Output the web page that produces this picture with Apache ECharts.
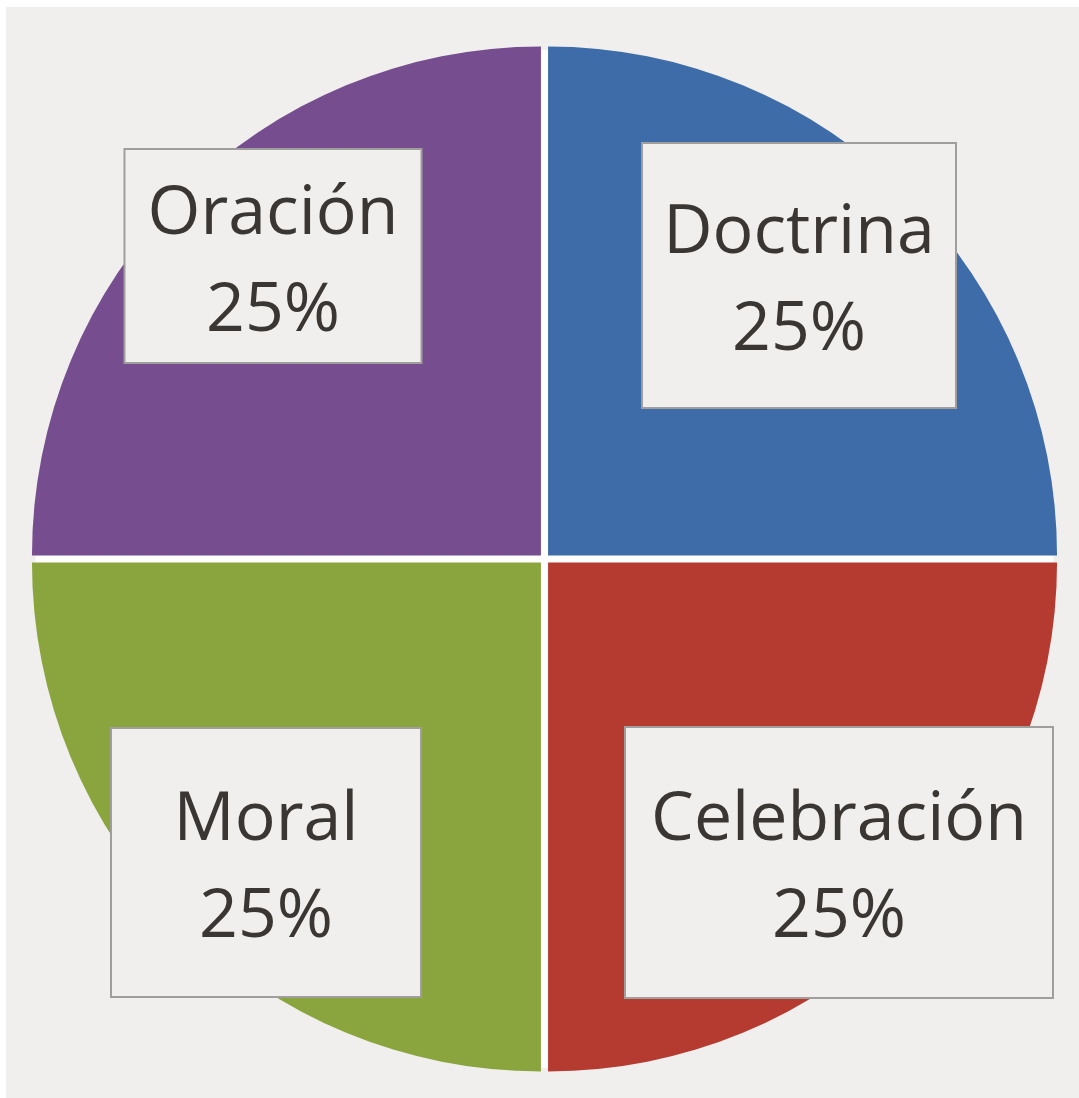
<!DOCTYPE html>
<html>
<head>
<meta charset="utf-8">
<script src="https://cdn.jsdelivr.net/npm/echarts@6/dist/echarts.min.js"></script>
<style>
  html, body { margin: 0; padding: 0; background: #f0efed; overflow: hidden; }
  #chart { width: 1079px; height: 1098px; }
</style>
</head>
<body>
<div id="chart"></div>
<script>
// slices, clockwise from 12 o'clock
const categories = ["Doctrina", "Celebración", "Moral", "Oración"];
const values = [25, 25, 25, 25];
const colors = ["#3e6ca8", "#b53b31", "#8aa53d", "#764d8f"];

// label boxes: centre x, top y, width, height (px)
const boxes = [
  [799, 144, 312, 263],
  [839, 728, 426, 269],
  [266, 729, 308, 267],
  [273, 150, 295, 212],
];
const lineH = 97;
const textDrop = 7; // text sits a little below the box middle

const chart = echarts.init(document.getElementById("chart"), null, { renderer: "canvas" });

const center = [544.5, 559];
const radius = 509;

// slices pulled apart a little, like an exploded pie
const sliceData = categories.map((name, i) => ({
  name,
  value: values[i],
  selected: true,
  itemStyle: { color: colors[i] },
}));

// same values again, only to carry the boxed labels
const labelData = categories.map((name, i) => {
  const [, , w, h] = boxes[i];
  const padTop = (h - 2 * lineH) / 2 + textDrop;
  const padBottom = h - 2 * lineH - padTop;
  return {
    name,
    value: values[i],
    label: { width: w, padding: [padTop, 0, padBottom, 0] },
  };
});

chart.setOption({
  animation: false,
  backgroundColor: "#f0efed",
  graphic: [
    // thin white strips at top and left edge of the picture
    { type: "rect", z: -1, shape: { x: 0, y: 0, width: 1079, height: 7 }, style: { fill: "#ffffff" } },
    { type: "rect", z: -1, shape: { x: 0, y: 0, width: 6, height: 1098 }, style: { fill: "#ffffff" } },
  ],
  series: [
    {
      // white disc behind the pulled-apart slices, shows as the gaps
      type: "pie",
      z: 1,
      center,
      radius: [0, radius],
      silent: true,
      emphasis: { disabled: true },
      label: { show: false },
      labelLine: { show: false },
      itemStyle: { color: "#ffffff" },
      data: [{ name: "", value: 1 }],
    },
    {
      type: "pie",
      z: 2,
      center,
      radius: [0, radius],
      startAngle: 90,
      clockwise: true,
      silent: true,
      selectedMode: "multiple",
      selectedOffset: 5,
      emphasis: { disabled: true },
      itemStyle: { borderWidth: 0 },
      label: { show: false },
      labelLine: { show: false },
      data: sliceData,
    },
    {
      type: "pie",
      z: 3,
      center,
      radius: [0, radius],
      startAngle: 90,
      clockwise: true,
      silent: true,
      emphasis: { disabled: true },
      itemStyle: { color: "rgba(0,0,0,0)", borderWidth: 0 },
      label: {
        show: true,
        position: "inside",
        formatter: "{b}\n{d}%",
        fontFamily: "Open Sans",
        fontSize: 68,
        lineHeight: lineH,
        color: "#3a3633",
        backgroundColor: "#f0efed",
        borderColor: "#a09e9c",
        borderWidth: 2,
        overflow: "none",
        align: "center",
        verticalAlign: "top",
      },
      labelLine: { show: false },
      labelLayout: (params) => ({
        x: boxes[params.dataIndex][0],
        y: boxes[params.dataIndex][1],
        align: "center",
        verticalAlign: "top",
      }),
      data: labelData,
    },
  ],
});
</script>
</body>
</html>
